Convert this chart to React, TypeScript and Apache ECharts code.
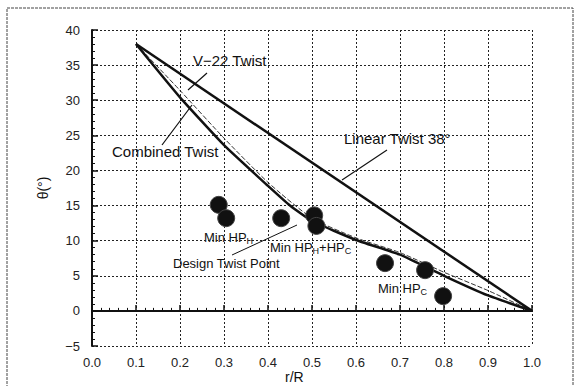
import React, { useEffect, useRef } from "react";
import * as echarts from "echarts";

const rTicks = [0, 0.1, 0.2, 0.3, 0.4, 0.5, 0.6, 0.7, 0.8, 0.9, 1.0];
const linearTwist: [number, number][] = [
  [0.1, 38],
  [1.0, 0],
];
const combinedTwist: [number, number][] = [
  [0.1, 38], [0.2, 30.4], [0.3, 23.6], [0.4, 17.8], [0.45, 15.0], [0.5, 12.8],
  [0.6, 10.1], [0.7, 8.0], [0.8, 5.0], [0.9, 2.2], [1.0, 0],
];
const v22Twist: [number, number][] = [
  [0.1, 38], [0.2, 31.4], [0.3, 24.6], [0.4, 18.3], [0.5, 13.2],
  [0.6, 10.4], [0.7, 8.3], [0.8, 5.5], [0.9, 2.9], [1.0, 0],
];
const zeroRef: [number, number][] = [
  [0.2, 0],
  [1.0, 0],
];
const optimumPoints: [number, number][] = [
  [0.288, 15.1], [0.305, 13.2], [0.43, 13.2], [0.505, 13.6], [0.51, 12.1],
  [0.666, 6.8], [0.757, 5.8], [0.798, 2.1],
];

const FONT = "Liberation Sans, Arial, sans-serif";

export default function App() {
  const ref = useRef<HTMLDivElement>(null);
  useEffect(() => {
    if (!ref.current) return;
    const chart = echarts.init(ref.current, null, { renderer: "svg" });
    const labelStyle = { fontFamily: FONT, fill: "#111" };
    const sub = { fontSize: 9, fontFamily: FONT, fill: "#111", verticalAlign: "bottom", padding: [6, 0, 0, 0] };
    chart.setOption({
      animation: false,
      backgroundColor: "#fff",
      grid: { left: 92, right: 48, top: 30, bottom: 40 },
      xAxis: {
        type: "value",
        min: 0,
        max: 1,
        interval: 0.1,
        axisLine: { show: true, lineStyle: { color: "#111", width: 2 } },
        axisTick: { show: true, inside: true, length: 6, lineStyle: { color: "#111", width: 1.5 } },
        minorTick: { show: true, splitNumber: 5, length: 3, lineStyle: { color: "#111", width: 1 } },
        splitLine: { show: true, lineStyle: { color: "#222", type: [2, 2], width: 1 } },
        axisLabel: {
          color: "#222",
          fontSize: 13,
          fontFamily: FONT,
          margin: 10,
          formatter: (v: number) => {
            const t = rTicks.find((x) => Math.abs(x - v) < 1e-6);
            return t === undefined ? "" : t.toFixed(1);
          },
        },
      },
      yAxis: {
        type: "value",
        min: -5,
        max: 40,
        interval: 5,
        name: "θ(°)",
        nameLocation: "middle",
        nameGap: 42,
        nameRotate: 90,
        nameTextStyle: { color: "#111", fontSize: 14, fontFamily: FONT },
        axisLine: { show: true, lineStyle: { color: "#111", width: 2 } },
        axisTick: { show: true, inside: true, length: 6, lineStyle: { color: "#111", width: 1.5 } },
        minorTick: { show: true, splitNumber: 5, length: 3, lineStyle: { color: "#111", width: 1 } },
        splitLine: { show: true, lineStyle: { color: "#222", type: [2, 2], width: 1 } },
        axisLabel: {
          color: "#222",
          fontSize: 13,
          fontFamily: FONT,
          margin: 12,
          formatter: (v: number) => (v < 0 ? "\u2212" + Math.abs(v) : String(v)),
        },
      },
      series: [
        {
          type: "line",
          name: "Zero",
          data: zeroRef,
          symbol: "none",
          lineStyle: { color: "#111", width: 1.5 },
        },
        {
          type: "line",
          name: "V-22 Twist",
          data: v22Twist,
          symbol: "none",
          smooth: 0.2,
          lineStyle: { color: "#333", width: 1, type: [5, 2] },
        },
        {
          type: "line",
          name: "Linear Twist 38°",
          data: linearTwist,
          symbol: "none",
          lineStyle: { color: "#111", width: 2.5 },
        },
        {
          type: "line",
          name: "Combined Twist",
          data: combinedTwist,
          symbol: "none",
          smooth: 0.15,
          lineStyle: { color: "#111", width: 2.5 },
        },
        {
          type: "scatter",
          name: "Optimum",
          data: optimumPoints,
          symbol: "circle",
          symbolSize: 17,
          itemStyle: { color: "#111", borderColor: "#444", borderWidth: 1, opacity: 1 },
          z: 5,
        },
      ],
      graphic: [
        {
          type: "rect",
          shape: { x: 7, y: 8, width: 566, height: 380 },
          style: { fill: "none", stroke: "#444", lineWidth: 1, lineDash: [3, 1] },
          silent: true,
        },
        { type: "text", x: 193, y: 53, style: { ...labelStyle, text: "V\u221222 Twist", fontSize: 15 } },
        { type: "line", shape: { x1: 207, y1: 73, x2: 188, y2: 90 }, style: { stroke: "#111", lineWidth: 1.2 } },
        { type: "text", x: 112, y: 144, style: { ...labelStyle, text: "Combined Twist", fontSize: 15 } },
        { type: "line", shape: { x1: 162, y1: 145, x2: 192, y2: 105 }, style: { stroke: "#111", lineWidth: 1.2 } },
        { type: "text", x: 344, y: 131, style: { ...labelStyle, text: "Linear Twist 38°", fontSize: 15 } },
        { type: "line", shape: { x1: 387, y1: 150, x2: 342, y2: 180 }, style: { stroke: "#111", lineWidth: 1.2 } },
        { type: "text", x: 204, y: 230, style: { ...labelStyle, text: "Min HP{s|H}", fontSize: 13, rich: { s: sub } } },
        { type: "text", x: 270, y: 240, style: { ...labelStyle, text: "Min HP{s|H}+HP{s|C}", fontSize: 13, rich: { s: sub } } },
        { type: "text", x: 173, y: 257, style: { ...labelStyle, text: "Design Twist Point", fontSize: 13 } },
        { type: "line", shape: { x1: 232, y1: 255, x2: 297, y2: 225 }, style: { stroke: "#111", lineWidth: 1 } },
        { type: "text", x: 378, y: 281, style: { ...labelStyle, text: "Min HP{s|C}", fontSize: 13, rich: { s: sub } } },
        { type: "text", x: 285, y: 370, style: { ...labelStyle, text: "r/R", fontSize: 14 } },
      ],
    });
    return () => chart.dispose();
  }, []);
  return (
    <div
      ref={ref}
      style={{ position: "fixed", left: 0, top: 0, width: 580, height: 386, background: "#fff" }}
    />
  );
}
